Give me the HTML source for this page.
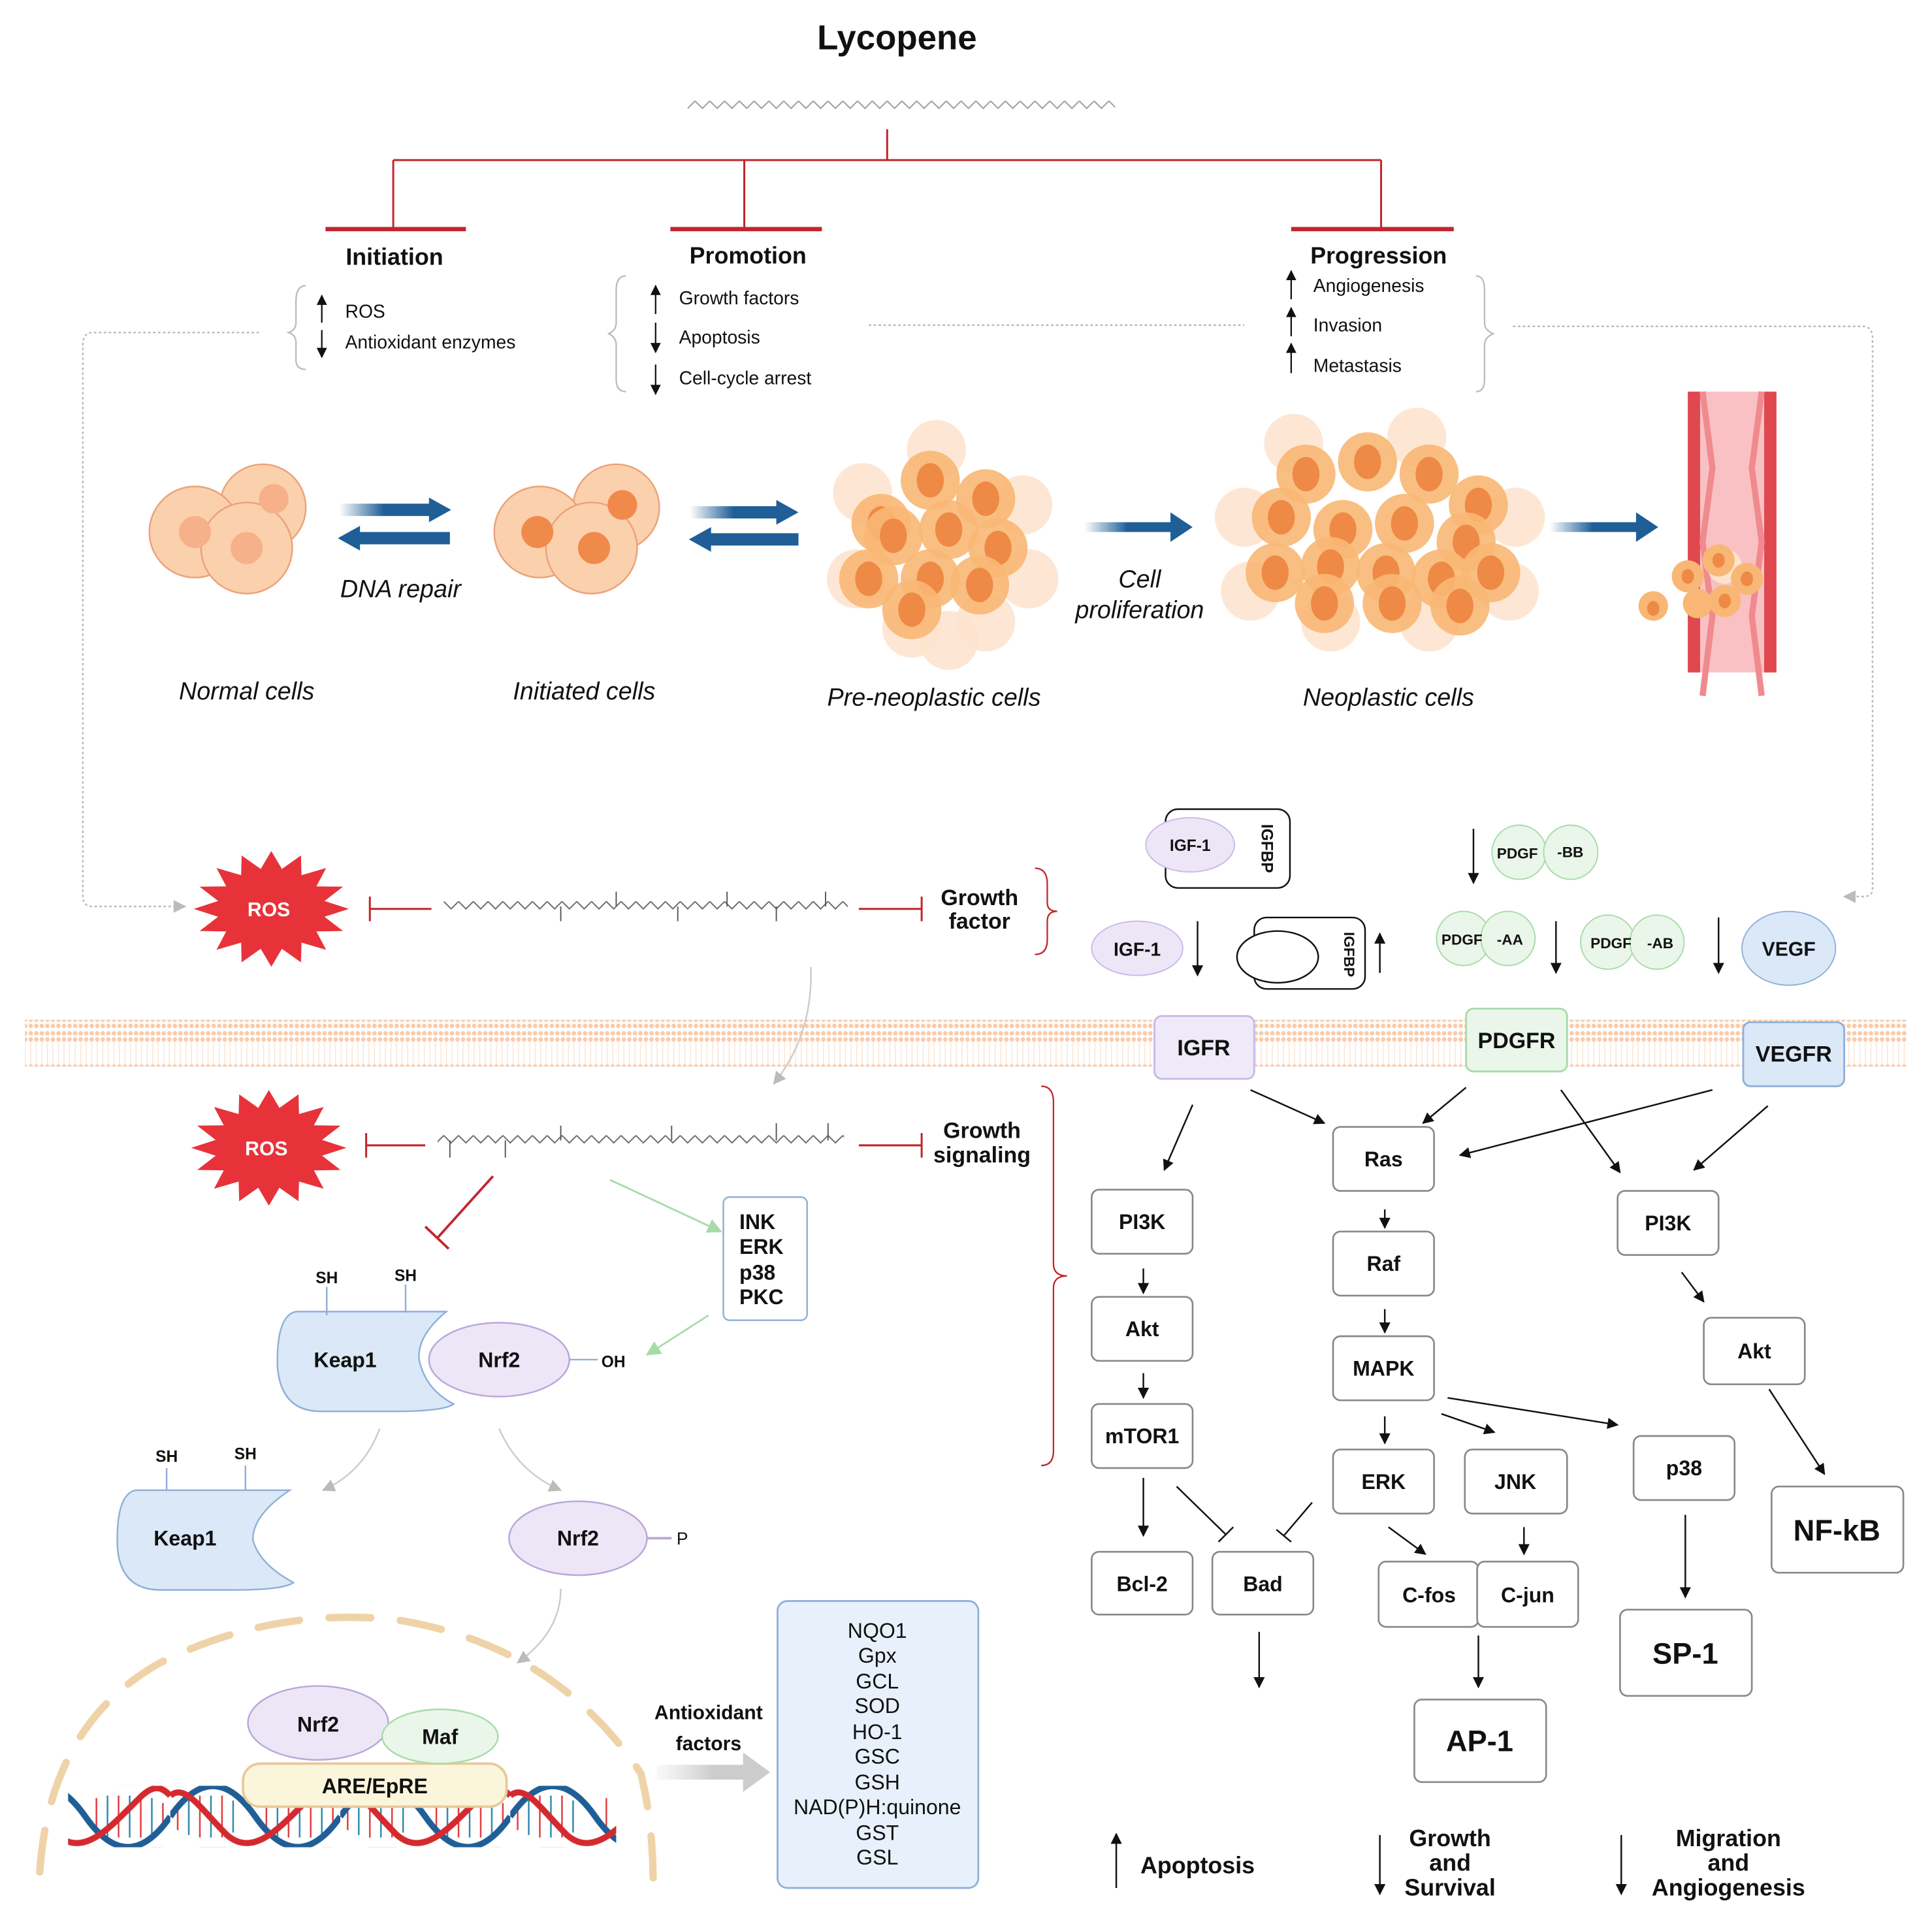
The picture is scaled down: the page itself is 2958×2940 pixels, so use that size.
<!DOCTYPE html>
<html><head><meta charset="utf-8">
<style>
html,body{margin:0;padding:0;background:#fff;}
svg{display:block;}
text{font-family:"Liberation Sans",sans-serif;fill:#111;}
.b{font-weight:bold;}
.i{font-style:italic;}
</style></head>
<body>
<svg width="2958" height="2940" viewBox="0 0 1568 1559" xmlns="http://www.w3.org/2000/svg">
<defs>
<marker id="ah" viewBox="0 0 10 10" refX="9" refY="5" markerWidth="7" markerHeight="7" orient="auto-start-reverse"><path d="M0,0 L10,5 L0,10 z" fill="#111"/></marker>
<marker id="ahg" viewBox="0 0 10 10" refX="9" refY="5" markerWidth="8" markerHeight="8" orient="auto"><path d="M0,0 L10,5 L0,10 z" fill="#bbb"/></marker>
<marker id="ahgr" viewBox="0 0 10 10" refX="9" refY="5" markerWidth="8" markerHeight="8" orient="auto"><path d="M0,0 L10,5 L0,10 z" fill="#a8dba8"/></marker>
<linearGradient id="bg" x1="0" x2="1"><stop offset="0" stop-color="#1f5e96" stop-opacity="0"/><stop offset="0.4" stop-color="#1f5e96"/></linearGradient>
<linearGradient id="gg" x1="0" x2="1"><stop offset="0" stop-color="#ddd" stop-opacity="0.2"/><stop offset="0.5" stop-color="#ccc"/></linearGradient>
<pattern id="zig" patternUnits="userSpaceOnUse" width="12" height="10"><path d="M0,2 L6,8 L12,2" stroke="#666" stroke-width="1" fill="none"/></pattern>
<pattern id="zigl" patternUnits="userSpaceOnUse" width="12" height="10"><path d="M0,2 L6,8 L12,2" stroke="#999" stroke-width="1" fill="none"/></pattern>
<pattern id="mem" patternUnits="userSpaceOnUse" width="4.5" height="38"><circle cx="2.2" cy="3" r="1.8" fill="#f9cbaa"/><circle cx="2.2" cy="8" r="1.8" fill="#f9cbaa"/><circle cx="2.2" cy="30" r="1.8" fill="#f9cbaa"/><circle cx="2.2" cy="35" r="1.8" fill="#f9cbaa"/><path d="M2.2,10 V28" stroke="#fde5d3" stroke-width="0.8"/></pattern>
<pattern id="dna" patternUnits="userSpaceOnUse" width="138" height="50">
<g stroke-width="1.3"><path d="M6,14 V36 M24,8 V42 M42,8 V42 M78,10 V40 M96,8 V42 M114,8 V42 M132,14 V36" stroke="#e03a3e"/><path d="M15,10 V40 M33,8 V42 M51,12 V38 M87,8 V42 M105,8 V42 M123,10 V40" stroke="#2a8ab0"/></g>
<path d="M0,25 C23,-8 46,-8 69,25 C92,58 115,58 138,25" stroke="#1f5e96" stroke-width="5" fill="none"/>
<path d="M0,8 C12,-2 24,18 46,40 C69,60 92,30 115,8 C126,-2 132,2 138,8" stroke="#d42a2f" stroke-width="5" fill="none"/>
</pattern>
<polygon id="star" points="63,0 43.2,6.4 58.2,18 36.6,18.3 44.5,33.2 24.5,27.4 24.1,43.4 8.6,32.4 0,47 -8.6,32.4 -24.1,43.4 -24.5,27.4 -44.5,33.2 -36.6,18.3 -58.2,18 -43.2,6.4 -63,0 -43.2,-6.4 -58.2,-18 -36.6,-18.3 -44.5,-33.2 -24.5,-27.4 -24.1,-43.4 -8.6,-32.4 0,-47 8.6,-32.4 24.1,-43.4 24.5,-27.4 44.5,-33.2 36.6,-18.3 58.2,-18 43.2,-6.4" fill="#e8323a"/>
<g id="tc"><circle r="24" fill="#f8b774" opacity="0.9"/><ellipse rx="11" ry="14" fill="#ee8a45"/></g>
<circle id="lc" r="24" fill="#fde3cc" opacity="0.85"/>
</defs>

<text x="728" y="40" font-size="28" class="b" text-anchor="middle">Lycopene</text>
<rect x="558" y="80" width="347" height="10" fill="url(#zigl)"/>

<g stroke="#c0272d" fill="none">
<path d="M720,105 V130 M319,130 H1121 M319,130 V186 M604,130 V186 M1121,130 V186" stroke-width="1.6"/>
<path d="M264,186 H378 M544,186 H667 M1048,186 H1180" stroke-width="3.5"/>
</g>
<text x="320" y="215" font-size="19" class="b" text-anchor="middle">Initiation</text>
<text x="607" y="214" font-size="19" class="b" text-anchor="middle">Promotion</text>
<text x="1119" y="214" font-size="19" class="b" text-anchor="middle">Progression</text>

<g stroke="#111" stroke-width="1.2" fill="none">
<path d="M261,262 V240" marker-end="url(#ah)"/>
<path d="M261,268 V290" marker-end="url(#ah)"/>
<path d="M532,255 V232" marker-end="url(#ah)"/>
<path d="M532,262 V286" marker-end="url(#ah)"/>
<path d="M532,296 V320" marker-end="url(#ah)"/>
<path d="M1048,243 V220" marker-end="url(#ah)"/>
<path d="M1048,273 V250" marker-end="url(#ah)"/>
<path d="M1048,303 V279" marker-end="url(#ah)"/>
</g>
<g font-size="15">
<text x="280" y="258">ROS</text>
<text x="280" y="283">Antioxidant enzymes</text>
<text x="551" y="247">Growth factors</text>
<text x="551" y="279">Apoptosis</text>
<text x="551" y="312">Cell-cycle arrest</text>
<text x="1066" y="237">Angiogenesis</text>
<text x="1066" y="269">Invasion</text>
<text x="1066" y="302">Metastasis</text>
</g>
<g stroke="#bbb" stroke-width="1.2" fill="none">
<path d="M248,232 Q240,232 240,245 V262 Q240,268 234,270 Q240,272 240,278 V292 Q240,300 248,300"/>
<path d="M508,224 Q500,224 500,236 V262 Q500,268 494,271 Q500,274 500,280 V308 Q500,318 508,318"/>
<path d="M1198,224 Q1205,224 1205,236 V262 Q1205,268 1212,271 Q1205,274 1205,280 V308 Q1205,318 1198,318"/>
</g>
<g stroke="#bbb" stroke-width="1.3" fill="none" stroke-dasharray="2,2">
<path d="M210,270 H75 Q67,270 67,280 V728 Q67,736 75,736 H150" marker-end="url(#ahg)"/>
<path d="M705,264 H1010"/>
<path d="M1228,265 H1512 Q1520,265 1520,275 V722 Q1520,728 1512,728 H1497" marker-end="url(#ahg)"/>
</g>

<g fill="#fbd0ad" stroke="#eba27a" stroke-width="1.3">
<circle cx="213" cy="412" r="35"/><circle cx="158" cy="432" r="37"/><circle cx="200" cy="445" r="37"/>
<circle cx="500" cy="412" r="35"/><circle cx="438" cy="432" r="37"/><circle cx="480" cy="445" r="37"/>
</g>
<g fill="#f6b08a"><circle cx="222" cy="405" r="12"/><circle cx="158" cy="432" r="13"/><circle cx="200" cy="445" r="13"/></g>
<g fill="#f08a4a"><circle cx="505" cy="410" r="12"/><circle cx="436" cy="432" r="13"/><circle cx="482" cy="445" r="13"/></g>

<g>
<use href="#lc" x="760" y="365"/><use href="#lc" x="700" y="400"/><use href="#lc" x="830" y="410"/><use href="#lc" x="695" y="470"/><use href="#lc" x="835" y="470"/><use href="#lc" x="740" y="510"/><use href="#lc" x="800" y="505"/><use href="#lc" x="770" y="520"/>
<use href="#tc" x="755" y="390"/><use href="#tc" x="715" y="425"/><use href="#tc" x="800" y="405"/><use href="#tc" x="725" y="435"/><use href="#tc" x="770" y="430"/><use href="#tc" x="810" y="445"/><use href="#tc" x="705" y="470"/><use href="#tc" x="755" y="470"/><use href="#tc" x="795" y="475"/><use href="#tc" x="740" y="495"/>
</g>
<g>
<use href="#lc" x="1050" y="360"/><use href="#lc" x="1150" y="355"/><use href="#lc" x="1010" y="420"/><use href="#lc" x="1230" y="420"/><use href="#lc" x="1015" y="480"/><use href="#lc" x="1225" y="480"/><use href="#lc" x="1080" y="505"/><use href="#lc" x="1160" y="505"/>
<use href="#tc" x="1060" y="385"/><use href="#tc" x="1110" y="375"/><use href="#tc" x="1160" y="385"/><use href="#tc" x="1200" y="410"/><use href="#tc" x="1040" y="420"/><use href="#tc" x="1090" y="430"/><use href="#tc" x="1140" y="425"/><use href="#tc" x="1190" y="440"/><use href="#tc" x="1035" y="465"/><use href="#tc" x="1080" y="460"/><use href="#tc" x="1125" y="465"/><use href="#tc" x="1170" y="470"/><use href="#tc" x="1210" y="465"/><use href="#tc" x="1075" y="490"/><use href="#tc" x="1130" y="490"/><use href="#tc" x="1185" y="492"/>
</g>

<g>
<path d="M275,409 H348 V404 L366,414 L348,424 V419 H275 z" fill="url(#bg)"/>
<path d="M365,432 H292 V427 L274,437 L292,447 V442 H365 z" fill="#1f5e96"/>
<path d="M560,411 H630 V406 L648,416 L630,426 V421 H560 z" fill="url(#bg)"/>
<path d="M648,433 H577 V428 L559,438 L577,448 V443 H648 z" fill="#1f5e96"/>
<path d="M880,424 H950 V416 L968,428 L950,440 V432 H880 z" fill="url(#bg)"/>
<path d="M1258,424 H1328 V416 L1346,428 L1328,440 V432 H1258 z" fill="url(#bg)"/>
</g>
<g font-size="20" class="i" text-anchor="middle">
<text x="325" y="485">DNA repair</text>
<text x="200" y="568">Normal cells</text>
<text x="474" y="568">Initiated cells</text>
<text x="758" y="573">Pre-neoplastic cells</text>
<text x="1127" y="573">Neoplastic cells</text>
<text x="925" y="477">Cell</text>
<text x="925" y="502">proliferation</text>
</g>
<rect x="1372" y="318" width="68" height="228" fill="#f9c1c3"/>
<rect x="1370" y="318" width="10" height="228" fill="#e0484f"/>
<rect x="1432" y="318" width="10" height="228" fill="#e0484f"/>
<path d="M1382,318 L1390,380 L1382,440 L1390,500 L1382,565 M1430,318 L1422,380 L1430,440 L1422,500 L1430,565" stroke="#f08a8e" stroke-width="5" fill="none"/>
<g>
<circle cx="1400" cy="460" r="14" fill="#fde3cc"/><circle cx="1418" cy="470" r="13" fill="#f8b774"/>
<circle cx="1370" cy="468" r="13" fill="#f8b774"/><circle cx="1395" cy="455" r="13" fill="#f8b774"/><circle cx="1400" cy="488" r="13" fill="#f8b774"/><circle cx="1378" cy="490" r="12" fill="#f8b774"/><circle cx="1342" cy="492" r="12" fill="#f8b774"/>
<g fill="#ee8a45"><ellipse cx="1370" cy="468" rx="5" ry="6"/><ellipse cx="1395" cy="455" rx="5" ry="6"/><ellipse cx="1400" cy="488" rx="5" ry="6"/><ellipse cx="1342" cy="494" rx="5" ry="6"/><ellipse cx="1418" cy="470" rx="5" ry="6"/></g>
</g>

<rect x="20" y="828" width="1528" height="38" fill="url(#mem)"/>

<use href="#star" x="220" y="738"/>
<use href="#star" x="218" y="932"/>
<text x="218" y="744" font-size="16" class="b" text-anchor="middle" style="fill:#fff">ROS</text>
<text x="216" y="938" font-size="16" class="b" text-anchor="middle" style="fill:#fff">ROS</text>
<g stroke="#c0272d" stroke-width="1.6" fill="none">
<path d="M300,738 H350 M300,728 V748 M697,738 H748 M748,728 V748"/>
<path d="M297,930 H345 M297,920 V940 M697,930 H748 M748,920 V940"/>
<path d="M840,705 Q850,705 850,718 V733 Q850,740 858,740 Q850,740 850,748 V763 Q850,775 840,775" stroke-width="1.2"/>
<path d="M845,882 Q855,882 855,895 V1026 Q855,1036 866,1036 Q855,1036 855,1046 V1178 Q855,1190 845,1190" stroke-width="1.2"/>
<path d="M400,955 L355,1005 M345,996 L364,1014" stroke-width="2"/>
</g>
<rect x="360" y="730" width="328" height="10" fill="url(#zig)"/>
<rect x="355" y="920" width="330" height="10" fill="url(#zig)"/>
<g stroke="#555" stroke-width="1">
<path d="M455,736 V748 M500,736 V724 M550,736 V748 M590,736 V724 M630,736 V748 M670,736 V724"/>
<path d="M365,926 V940 M410,926 V940 M455,926 V914 M545,926 V914 M630,926 V912 M672,926 V912"/>
</g>
<text x="795" y="735" font-size="18" class="b" text-anchor="middle">Growth</text>
<text x="795" y="754" font-size="18" class="b" text-anchor="middle">factor</text>
<text x="797" y="924" font-size="18" class="b" text-anchor="middle">Growth</text>
<text x="797" y="944" font-size="18" class="b" text-anchor="middle">signaling</text>

<path d="M658,785 Q660,840 628,880" stroke="#ccc" stroke-width="1.3" fill="none" marker-end="url(#ahg)"/>
<path d="M495,958 L585,1000" stroke="#a8dba8" stroke-width="1.5" fill="none" marker-end="url(#ahgr)"/>
<path d="M575,1068 L525,1100" stroke="#a8dba8" stroke-width="1.5" fill="none" marker-end="url(#ahgr)"/>
<rect x="587" y="972" width="68" height="100" rx="5" fill="#fff" stroke="#8fb0d8" stroke-width="1.3"/>
<g font-size="17" class="b"><text x="600" y="998">INK</text><text x="600" y="1018">ERK</text><text x="600" y="1039">p38</text><text x="600" y="1059">PKC</text></g>

<path d="M240,1065 H362 Q338,1085 340,1104 Q345,1128 368,1140 Q360,1146 320,1146 H260 Q228,1146 225,1110 Q224,1068 240,1065 z" fill="#dbe8f7" stroke="#8fb0d8" stroke-width="1.3"/>
<text x="280" y="1110" font-size="17" class="b" text-anchor="middle">Keap1</text>
<path d="M265,1045 V1068 M329,1043 V1066 M460,1104 H485" stroke="#8fb0d8" stroke-width="1.3"/>
<g font-size="13" class="b"><text x="256" y="1042">SH</text><text x="320" y="1040">SH</text><text x="488" y="1110">OH</text>
<text x="126" y="1187">SH</text><text x="190" y="1185">SH</text></g>
<ellipse cx="405" cy="1104" rx="57" ry="30" fill="#ede6f7" stroke="#b9a8d9" stroke-width="1.3"/>
<text x="405" y="1110" font-size="17" class="b" text-anchor="middle">Nrf2</text>
<path d="M308,1160 Q295,1195 262,1210" stroke="#ccc" stroke-width="1.3" fill="none" marker-end="url(#ahg)"/>
<path d="M405,1160 Q420,1195 455,1210" stroke="#ccc" stroke-width="1.3" fill="none" marker-end="url(#ahg)"/>
<path d="M135,1192 V1212 M199,1190 V1210" stroke="#8fb0d8" stroke-width="1.3"/>
<path d="M110,1210 H235 Q205,1230 205,1250 Q210,1270 238,1285 Q230,1291 190,1291 H130 Q97,1291 95,1255 Q94,1213 110,1210 z" fill="#dbe8f7" stroke="#8fb0d8" stroke-width="1.3"/>
<text x="150" y="1255" font-size="17" class="b" text-anchor="middle">Keap1</text>
<ellipse cx="469" cy="1249" rx="56" ry="30" fill="#ede6f7" stroke="#b9a8d9" stroke-width="1.3"/>
<text x="469" y="1255" font-size="17" class="b" text-anchor="middle">Nrf2</text>
<path d="M525,1249 H545" stroke="#b9a8d9" stroke-width="2"/>
<text x="549" y="1254" font-size="14">P</text>
<path d="M455,1290 Q455,1325 420,1350" stroke="#ccc" stroke-width="1.3" fill="none" marker-end="url(#ahg)"/>

<path d="M32,1520 Q40,1400 130,1350 Q220,1305 320,1315 Q450,1335 520,1440 Q530,1480 530,1530" stroke="#efd3a8" stroke-width="6" fill="none" stroke-dasharray="34,24" stroke-linecap="round"/>
<rect x="55" y="1450" width="445" height="50" fill="url(#dna)"/>
<rect x="197" y="1432" width="214" height="35" rx="14" fill="#fbf5dc" stroke="#e8c99a" stroke-width="2"/>
<text x="304" y="1456" font-size="17" class="b" text-anchor="middle">ARE/EpRE</text>
<ellipse cx="258" cy="1399" rx="57" ry="30" fill="#ede6f7" stroke="#b9a8d9" stroke-width="1.3"/>
<text x="258" y="1406" font-size="17" class="b" text-anchor="middle">Nrf2</text>
<ellipse cx="357" cy="1410" rx="47" ry="22" fill="#eaf6ea" stroke="#a8dba8" stroke-width="1.3"/>
<text x="357" y="1416" font-size="17" class="b" text-anchor="middle">Maf</text>
<text x="575" y="1396" font-size="16" class="b" text-anchor="middle">Antioxidant</text>
<text x="575" y="1421" font-size="16" class="b" text-anchor="middle">factors</text>
<path d="M533,1433 H603 V1423 L625,1439 L603,1455 V1445 H533 z" fill="url(#gg)"/>
<rect x="631" y="1300" width="163" height="233" rx="8" fill="#e8f1fb" stroke="#8fb0d8" stroke-width="1.5"/>
<g font-size="17" text-anchor="middle">
<text x="712" y="1330">NQO1</text><text x="712" y="1350">Gpx</text><text x="712" y="1371">GCL</text><text x="712" y="1391">SOD</text><text x="712" y="1412">HO-1</text><text x="712" y="1432">GSC</text><text x="712" y="1453">GSH</text><text x="712" y="1473">NAD(P)H:quinone</text><text x="712" y="1494">GST</text><text x="712" y="1514">GSL</text>
</g>

<rect x="946" y="657" width="101" height="64" rx="10" fill="#fff" stroke="#111" stroke-width="1.3"/>
<text transform="translate(1024,689) rotate(90)" font-size="13" class="b" text-anchor="middle">IGFBP</text>
<ellipse cx="966" cy="686" rx="36" ry="22" fill="#ede6f7" stroke="#c8b8e8"/>
<text x="966" y="691" font-size="13" class="b" text-anchor="middle">IGF-1</text>
<ellipse cx="923" cy="770" rx="37" ry="22" fill="#ede6f7" stroke="#c8b8e8"/>
<text x="923" y="776" font-size="15" class="b" text-anchor="middle">IGF-1</text>
<rect x="1018" y="745" width="90" height="58" rx="10" fill="#fff" stroke="#111" stroke-width="1.3"/>
<ellipse cx="1037" cy="777" rx="33" ry="21" fill="#fff" stroke="#111" stroke-width="1.3"/>
<text transform="translate(1091,775) rotate(90)" font-size="12" class="b" text-anchor="middle">IGFBP</text>
<g fill="#eaf6ea" stroke="#a8dba8">
<circle cx="1233" cy="692" r="22"/><circle cx="1275" cy="692" r="22"/>
<circle cx="1188" cy="762" r="22"/><circle cx="1224" cy="762" r="22"/>
<circle cx="1305" cy="765" r="22"/><circle cx="1345" cy="765" r="22"/>
</g>
<g font-size="12" class="b"><text x="1215" y="697">PDGF</text><text x="1264" y="696">-BB</text>
<text x="1170" y="767">PDGF</text><text x="1215" y="767">-AA</text>
<text x="1291" y="770">PDGF</text><text x="1337" y="770">-AB</text></g>
<ellipse cx="1452" cy="770" rx="38" ry="30" fill="#dbe8f7" stroke="#8fb0d8"/>
<text x="1452" y="776" font-size="16" class="b" text-anchor="middle">VEGF</text>
<g stroke="#111" stroke-width="1.3" fill="none" marker-end="url(#ah)">
<path d="M1196,673 V717"/><path d="M972,748 V792"/><path d="M1120,790 V758"/>
<path d="M1263,748 V790"/><path d="M1395,745 V790"/>
</g>
<rect x="937" y="825" width="81" height="51" rx="6" fill="#efeafa" stroke="#c8b8e8" stroke-width="1.5"/>
<text x="977" y="857" font-size="18" class="b" text-anchor="middle">IGFR</text>
<rect x="1190" y="819" width="82" height="51" rx="6" fill="#eaf6ea" stroke="#a8dba8" stroke-width="1.5"/>
<text x="1231" y="851" font-size="18" class="b" text-anchor="middle">PDGFR</text>
<rect x="1415" y="830" width="82" height="52" rx="6" fill="#dbe8f7" stroke="#8fb0d8" stroke-width="1.5"/>
<text x="1456" y="862" font-size="18" class="b" text-anchor="middle">VEGFR</text>

<g fill="#fff" stroke="#888" stroke-width="1.4">
<rect x="886" y="966" width="82" height="52" rx="6"/>
<rect x="1082" y="915" width="82" height="52" rx="6"/>
<rect x="1082" y="1000" width="82" height="52" rx="6"/>
<rect x="1082" y="1085" width="82" height="52" rx="6"/>
<rect x="1313" y="967" width="82" height="52" rx="6"/>
<rect x="886" y="1053" width="82" height="52" rx="6"/>
<rect x="886" y="1140" width="82" height="52" rx="6"/>
<rect x="1383" y="1070" width="82" height="54" rx="6"/>
<rect x="1082" y="1177" width="82" height="52" rx="6"/>
<rect x="1189" y="1177" width="83" height="52" rx="6"/>
<rect x="1326" y="1166" width="82" height="52" rx="6"/>
<rect x="1438" y="1207" width="107" height="70" rx="6"/>
<rect x="886" y="1260" width="82" height="51" rx="6"/>
<rect x="984" y="1260" width="82" height="51" rx="6"/>
<rect x="1119" y="1268" width="81" height="53" rx="6"/>
<rect x="1199" y="1268" width="82" height="53" rx="6"/>
<rect x="1315" y="1307" width="107" height="70" rx="6"/>
<rect x="1148" y="1380" width="107" height="67" rx="6"/>
</g>
<g font-size="17" class="b" text-anchor="middle">
<text x="927" y="998">PI3K</text><text x="1123" y="947">Ras</text><text x="1123" y="1032">Raf</text><text x="1123" y="1117">MAPK</text>
<text x="1354" y="999">PI3K</text><text x="927" y="1085">Akt</text><text x="927" y="1172">mTOR1</text><text x="1424" y="1103">Akt</text>
<text x="1123" y="1209">ERK</text><text x="1230" y="1209">JNK</text><text x="1367" y="1198">p38</text>
<text x="927" y="1292">Bcl-2</text><text x="1025" y="1292">Bad</text><text x="1160" y="1301">C-fos</text><text x="1240" y="1301">C-jun</text>
</g>
<g font-size="24" class="b" text-anchor="middle">
<text x="1491" y="1251">NF-kB</text><text x="1368" y="1351">SP-1</text><text x="1201" y="1422">AP-1</text>
</g>
<g stroke="#111" stroke-width="1.3" fill="none" marker-end="url(#ah)">
<path d="M968,897 L945,950"/><path d="M1015,885 L1075,912"/><path d="M1190,883 L1155,912"/>
<path d="M1390,885 L1185,938"/><path d="M1267,885 L1315,952"/><path d="M1435,898 L1375,950"/>
<path d="M928,1030 V1050"/><path d="M928,1115 V1135"/><path d="M1124,982 V997"/><path d="M1124,1063 V1082"/>
<path d="M1124,1150 V1172"/><path d="M1170,1148 L1213,1163"/><path d="M1175,1135 L1313,1157"/>
<path d="M1365,1033 L1383,1057"/><path d="M1436,1128 L1481,1197"/><path d="M928,1200 V1247"/>
<path d="M1127,1240 L1157,1262"/><path d="M1237,1240 V1262"/><path d="M1368,1230 V1297"/>
<path d="M1200,1328 V1370"/><path d="M1022,1325 V1370"/>
<path d="M906,1533 V1489"/><path d="M1120,1490 V1538"/><path d="M1316,1490 V1538"/>
</g>
<g stroke="#111" stroke-width="1.3" fill="none">
<path d="M955,1207 L995,1246 M989,1252 L1001,1240"/>
<path d="M1065,1220 L1042,1247 M1036,1242 L1048,1252"/>
</g>
<g font-size="19" class="b" text-anchor="middle">
<text x="972" y="1521">Apoptosis</text>
<text x="1177" y="1499">Growth</text><text x="1177" y="1519">and</text><text x="1177" y="1539">Survival</text>
<text x="1403" y="1499">Migration</text><text x="1403" y="1519">and</text><text x="1403" y="1539">Angiogenesis</text>
</g>
</svg>
</body></html>
